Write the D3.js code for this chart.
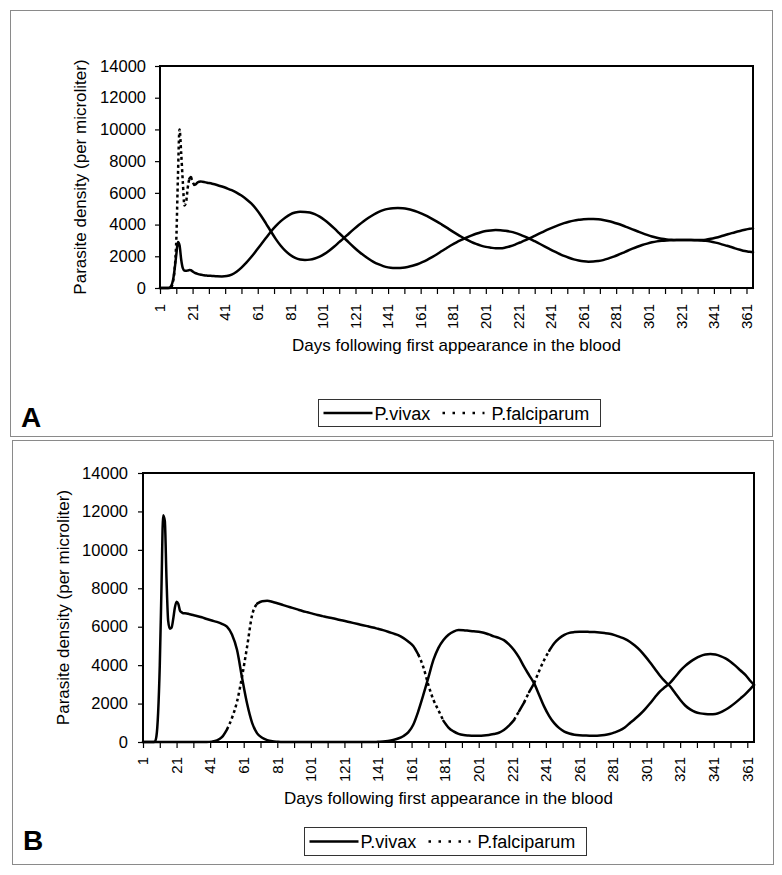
<!DOCTYPE html>
<html><head><meta charset="utf-8">
<script src="https://cdn.jsdelivr.net/npm/d3@7"></script>
<style>
body{margin:0;background:#fff}
svg{display:block}
text{font-family:"Liberation Sans",Arial,Helvetica,sans-serif;fill:#000}
</style>
</head><body>
<svg id="chart" width="782" height="875"></svg>
<script>
// ---- DATA ----
const seriesNames = ["P.vivax", "P.falciparum"];
const panelLetters = ["A", "B"];
const yTicks = [0, 2000, 4000, 6000, 8000, 10000, 12000, 14000];
const xTickLabels = [1, 21, 41, 61, 81, 101, 121, 141, 161, 181, 201, 221, 241, 261, 281, 301, 321, 341, 361];
const xTitle = "Days following first appearance in the blood";
const yTitle = "Parasite density (per microliter)";

const days = [
  1,2,3,4,5,6,7,8,9,10,
  11,12,13,14,15,16,17,18,19,20,
  21,22,23,24,25,26,27,28,29,30,
  33,36,39,42,45,48,51,54,57,60,
  63,66,69,72,75,78,81,84,87,90,
  93,96,99,102,105,108,111,114,117,120,
  123,126,129,132,135,138,141,144,147,150,
  153,156,159,162,165,168,171,174,177,180,
  183,186,189,192,195,198,201,204,207,210,
  213,216,219,222,225,228,231,234,237,240,
  243,246,249,252,255,258,261,264,267,270,
  273,276,279,282,285,288,291,294,297,300,
  303,306,309,312,315,318,321,324,327,330,
  333,336,339,342,345,348,351,354,357,360,
  363,365];

const aVivax = [
  0,0,0,0,0,0,30,150,500,1200,
  2100,2900,2700,1800,1250,1100,1080,1100,1130,1120,
  1050,980,930,890,860,840,820,800,790,780,
  760,740,730,750,840,1030,1290,1600,1950,2350,
  2750,3150,3550,3900,4200,4450,4650,4760,4810,4800,
  4760,4660,4500,4290,4040,3760,3460,3160,2860,2570,
  2300,2060,1840,1650,1500,1380,1300,1265,1260,1280,
  1330,1400,1500,1630,1780,1950,2130,2330,2520,2710,
  2880,3030,3170,3300,3420,3520,3590,3630,3650,3645,
  3610,3555,3475,3370,3245,3105,2950,2790,2630,2465,
  2305,2160,2020,1905,1805,1735,1685,1662,1665,1700,
  1760,1850,1960,2080,2210,2350,2480,2600,2710,2800,
  2880,2940,2980,3000,3010,3020,3020,3020,3020,3020,
  3030,3050,3100,3170,3250,3340,3430,3520,3600,3670,
  3730,3760];

const aFalciparum = [
  0,0,0,0,0,0,0,50,400,1200,
  3000,7000,10000,8500,6700,5200,5400,6300,6900,7000,
  6700,6500,6550,6650,6700,6720,6700,6680,6660,6640,
  6580,6500,6400,6290,6170,6020,5830,5600,5330,4980,
  4560,4080,3580,3100,2680,2340,2080,1900,1800,1770,
  1790,1860,1980,2150,2370,2620,2890,3160,3440,3710,
  3970,4210,4430,4620,4780,4910,4990,5030,5040,5025,
  4980,4905,4805,4680,4530,4365,4190,4000,3805,3605,
  3415,3230,3060,2910,2780,2675,2595,2545,2505,2505,
  2550,2630,2740,2870,3000,3140,3290,3440,3590,3730,
  3860,3980,4090,4180,4250,4300,4340,4350,4350,4330,
  4290,4230,4150,4050,3940,3820,3700,3580,3460,3350,
  3250,3170,3100,3060,3040,3030,3020,3020,3020,3010,
  3000,2980,2930,2860,2780,2690,2600,2500,2410,2330,
  2280,2250];

const bVivax = [
  0,0,0,0,0,0,0,20,300,1500,
  4000,8000,11800,11500,8500,6300,5900,5950,6400,7000,
  7300,7200,6850,6750,6700,6700,6690,6670,6650,6620,
  6560,6490,6400,6320,6250,6150,6000,5600,4800,3350,
  2000,1000,450,220,100,40,15,0,0,0,
  0,0,0,0,0,0,0,0,0,0,
  0,0,0,0,0,0,10,20,50,100,
  180,300,500,900,1600,2450,3350,4270,4900,5310,
  5580,5750,5830,5820,5790,5760,5740,5690,5600,5500,
  5420,5300,5080,4790,4400,3920,3480,3050,2450,1840,
  1350,980,720,540,440,380,350,340,330,330,
  340,370,420,500,600,760,980,1200,1430,1700,
  2000,2330,2640,2860,3080,3380,3700,3960,4170,4340,
  4470,4550,4580,4550,4470,4350,4180,3960,3720,3480,
  3160,2970];

const bFalciparum = [
  0,0,0,0,0,0,0,0,0,0,
  0,0,0,0,0,0,0,0,0,0,
  0,0,0,0,0,0,0,0,0,0,
  0,0,0,20,80,250,650,1250,2100,3400,
  4950,6600,7200,7330,7350,7300,7220,7140,7060,6980,
  6900,6820,6750,6680,6610,6550,6490,6440,6380,6320,
  6260,6200,6140,6080,6020,5960,5890,5820,5740,5650,
  5560,5420,5230,5000,4550,3900,2970,2200,1650,1100,
  750,550,420,360,340,330,330,340,370,420,
  480,620,850,1140,1600,2050,2600,3050,3700,4270,
  4750,5140,5400,5580,5680,5720,5740,5740,5730,5720,
  5700,5670,5630,5560,5470,5370,5220,5020,4780,4480,
  4150,3800,3450,3150,2900,2550,2200,1900,1700,1560,
  1490,1460,1450,1460,1540,1680,1850,2050,2270,2500,
  2780,2970];

// ---- LAYOUT ----
const panels = [
  {letter: panelLetters[0], vivax: aVivax, falc: aFalciparum,
   plot: {l: 160, r: 753, t: 66, b: 288}, frame: {x: 10.5, y: 10.5, w: 762, h: 426},
   yPad: 9, yTitleX: 86, xTitleY: 351, labelTop: 304,
   legend: {x: 318.5, y: 399.5, w: 282, h: 27}, letterPos: {x: 21, y: 427}},
  {letter: panelLetters[1], vivax: bVivax, falc: bFalciparum,
   plot: {l: 143, r: 754, t: 473, b: 742}, frame: {x: 12.5, y: 440.5, w: 761, h: 424},
   yPad: 10, yTitleX: 69, xTitleY: 804, labelTop: 757,
   legend: {x: 304.5, y: 827.5, w: 282, h: 28}, letterPos: {x: 23, y: 850}}
];

const svg = d3.select("#chart");
svg.append("rect").attr("width", 782).attr("height", 875).attr("fill", "#fff");

panels.forEach(P => {
  const p = P.plot;
  const g = svg.append("g");
  // outer frame
  g.append("rect").attr("x", P.frame.x).attr("y", P.frame.y)
    .attr("width", P.frame.w).attr("height", P.frame.h)
    .attr("fill", "none").attr("stroke", "#8a8a8a").attr("stroke-width", 1);

  const x = d3.scaleLinear().domain([1, 365]).range([p.l, p.r]);
  const y = d3.scaleLinear().domain([0, 14000]).range([p.b, p.t]);

  // y axis
  const ya = g.append("g").attr("transform", `translate(${p.l},0)`)
    .call(d3.axisLeft(y).tickValues(yTicks).tickSize(5).tickPadding(P.yPad).tickFormat(d3.format("d")));
  ya.select(".domain").remove();
  ya.selectAll("line").attr("stroke", "#000").attr("stroke-width", 1.2);
  ya.selectAll("text").attr("font-size", 16.5).attr("font-family", '"Liberation Sans",Arial,sans-serif');

  // x axis (tick marks every 10 days)
  const xa = g.append("g").attr("transform", `translate(0,${p.b})`)
    .call(d3.axisBottom(x).tickValues(d3.range(1, 366, 10)).tickSize(6).tickFormat(""));
  xa.select(".domain").remove();
  xa.selectAll("line").attr("stroke", "#000").attr("stroke-width", 1.2);

  // x labels rotated
  g.append("g").selectAll("text").data(xTickLabels).join("text")
    .attr("transform", d => `translate(${x(d)},${P.labelTop}) rotate(-90)`)
    .attr("text-anchor", "end").attr("dy", "0.35em")
    .attr("font-size", 15).text(d => d);

  // titles
  g.append("text").attr("x", (p.l + p.r) / 2).attr("y", P.xTitleY)
    .attr("text-anchor", "middle").attr("font-size", 17).text(xTitle);
  g.append("text").attr("transform", `translate(${P.yTitleX},${(p.t + p.b) / 2}) rotate(-90)`)
    .attr("text-anchor", "middle").attr("font-size", 17).text(yTitle);

  // series
  const vivPts = days.map((d, i) => [d, P.vivax[i]]);
  const falPts = days.map((d, i) => [d, P.falc[i]]);
  const lineSmooth = d3.line().x(d => x(d[0])).y(d => y(d[1])).curve(d3.curveMonotoneX);

  // falciparum: dotted only where the line is steep (as in the source rendering)
  const runs = [];
  for (let i = 1; i < falPts.length; i++) {
    const a = falPts[i - 1], b = falPts[i];
    const steep = Math.abs(y(b[1]) - y(a[1])) / Math.abs(x(b[0]) - x(a[0])) > 1.75;
    const last = runs[runs.length - 1];
    if (last && last.steep === steep) last.pts.push(b);
    else runs.push({steep, pts: [a, b]});
  }
  runs.forEach(r => {
    g.append("path").attr("d", lineSmooth(r.pts))
      .attr("fill", "none").attr("stroke", "#000").attr("stroke-width", 2.5)
      .attr("stroke-linejoin", "round")
      .attr("stroke-linecap", r.steep ? "butt" : "round")
      .attr("stroke-dasharray", r.steep ? "3,3" : null);
  });

  g.append("path").attr("d", lineSmooth(vivPts))
    .attr("fill", "none").attr("stroke", "#000").attr("stroke-width", 2.5)
    .attr("stroke-linejoin", "round").attr("stroke-linecap", "round");

  // plot border
  g.append("rect").attr("x", p.l).attr("y", p.t).attr("width", p.r - p.l).attr("height", p.b - p.t)
    .attr("fill", "none").attr("stroke", "#000").attr("stroke-width", 2);

  // legend
  const L = P.legend;
  const lg = g.append("g").attr("transform", `translate(${L.x},${L.y})`);
  lg.append("rect").attr("width", L.w).attr("height", L.h).attr("fill", "#fff")
    .attr("stroke", "#333").attr("stroke-width", 1);
  const cy = L.h / 2;
  lg.append("line").attr("x1", 5).attr("x2", 54).attr("y1", cy).attr("y2", cy)
    .attr("stroke", "#000").attr("stroke-width", 2.5);
  lg.append("text").attr("x", 56).attr("y", cy + 6.5).attr("font-size", 18).text(seriesNames[0]);
  lg.append("line").attr("x1", 124).attr("x2", 166).attr("y1", cy).attr("y2", cy)
    .attr("stroke", "#000").attr("stroke-width", 2.5).attr("stroke-dasharray", "2.5,7.5");
  lg.append("text").attr("x", 173).attr("y", cy + 6.5).attr("font-size", 18).text(seriesNames[1]);

  // panel letter
  g.append("text").attr("x", P.letterPos.x).attr("y", P.letterPos.y)
    .attr("font-size", 28).attr("font-weight", "bold").text(P.letter);
});
</script>
</body></html>
